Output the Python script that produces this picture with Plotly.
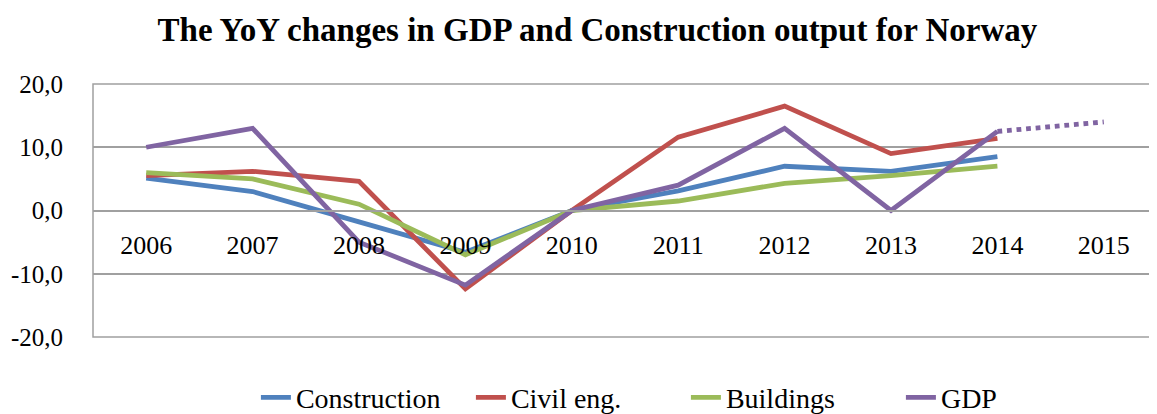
import plotly.graph_objects as go

years = ["2006", "2007", "2008", "2009", "2010", "2011", "2012", "2013", "2014", "2015"]
construction = [5.1, 3.0, -1.8, -6.6, 0.0, 3.1, 7.0, 6.2, 8.5, None]
civil_eng = [5.5, 6.2, 4.6, -12.4, 0.0, 11.6, 16.5, 9.0, 11.4, None]
buildings = [6.0, 5.0, 1.0, -7.0, 0.0, 1.5, 4.3, 5.5, 7.0, None]
gdp = [10.0, 13.0, -5.0, -11.8, 0.0, 4.0, 13.0, 0.0, 12.5, None]
gdp_forecast = [None, None, None, None, None, None, None, None, 12.5, 14.0]

y_ticks = [-20, -10, 0, 10, 20]
y_ticktext = [f"{v:.1f}".replace(".", ",") for v in y_ticks]

serif = "Liberation Serif"
grid = "#A0A0A0"
fig = go.Figure()
series = [
    ("Construction", construction, "#4F81BD"),
    ("Civil eng.", civil_eng, "#C0504D"),
    ("Buildings", buildings, "#9BBB59"),
    ("GDP", gdp, "#8064A2"),
]
for name, vals, col in series:
    fig.add_trace(go.Scatter(x=years, y=vals, name=name, mode="lines",
                             line=dict(color=col, width=4.8)))
fig.add_trace(go.Scatter(x=years, y=gdp_forecast, mode="lines", showlegend=False,
                         line=dict(color="#8064A2", width=4.8, dash="dot")))

fig.add_shape(type="rect", xref="paper", yref="paper", x0=0, x1=1, y0=0, y1=1,
              line=dict(color=grid, width=1.5), layer="below")

# page body has an 8px default margin, so the figure is sized to fit the window
fig.update_layout(
    width=1149, height=406,
    margin=dict(l=85, r=0, t=76, b=77),
    paper_bgcolor="white", plot_bgcolor="white",
    title=dict(text="<b>The YoY changes in GDP and Construction output for Norway</b>",
               x=0.513, xanchor="center", xref="container",
               y=0.948, yanchor="middle", yref="container",
               font=dict(family=serif, size=33, color="black")),
    font=dict(family=serif, size=22, color="black"),
    legend=dict(orientation="h", x=0.59, xanchor="center", xref="container",
                y=0.040, yanchor="middle", yref="container",
                font=dict(family=serif, size=28), itemwidth=30, tracegroupgap=0,
                entrywidth=170, entrywidthmode="pixels"),
    xaxis=dict(type="category", range=[-0.5, 9.5], anchor="free", position=0.5,
               showline=True, linecolor=grid, linewidth=1.5, automargin=False,
               showgrid=False, ticks="outside", ticklen=12, tickcolor="rgba(0,0,0,0)",
               tickfont=dict(family=serif, size=26), zeroline=False),
    yaxis=dict(range=[-20, 20], tickvals=y_ticks, ticktext=y_ticktext,
               showgrid=True, gridcolor=grid, gridwidth=1.5, automargin=False,
               showline=False, zeroline=False,
               ticks="outside", ticklen=24, tickcolor="rgba(0,0,0,0)",
               tickfont=dict(family=serif, size=25)),
)
fig.write_html("out.html")
